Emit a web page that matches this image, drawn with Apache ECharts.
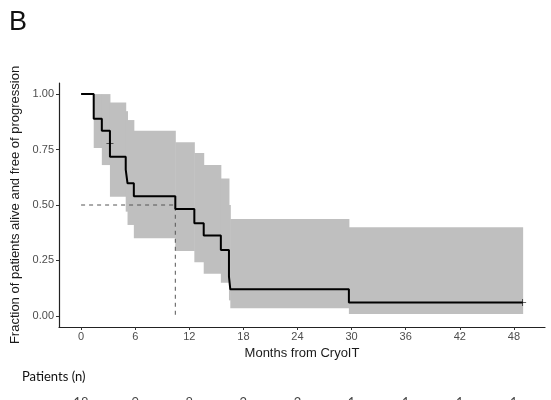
<!DOCTYPE html>
<html lang="en">
<head>
    <meta charset="UTF-8">
    <title>PFS after CryoIT</title>
    <style>
        html, body { margin: 0; padding: 0; background: #fff; }
    </style>
</head>
<body>
<div id="main" style="width: 551px;height:400px;"></div>

<script src="https://cdn.jsdelivr.net/npm/echarts@6/dist/echarts.min.js"></script>
<script>
    // step times (months) and Kaplan-Meier estimate with its 95% band
    var times = [0, 1.4, 2.3, 3.2, 4.95, 5.15, 5.85, 10.45, 12.56, 13.6, 15.5, 16.4, 16.55, 29.7, 48.97];
    var surv  = [1, 0.889, 0.835, 0.717, 0.66, 0.598, 0.54, 0.482, 0.418, 0.362, 0.297, 0.177, 0.12, 0.06, 0.06];
    var upper = [1, 1, 1, 0.962, 0.923, 0.883, 0.835, 0.783, 0.734, 0.68, 0.62, 0.50, 0.437, 0.40, 0.40];
    var lower = [1, 0.757, 0.68, 0.537, 0.47, 0.41, 0.35, 0.293, 0.242, 0.19, 0.15, 0.07, 0.035, 0.009, 0.009];

    // censored observations
    var censored = [[3.2, 0.778], [48.97, 0.06]];

    // median survival guide
    var median = 10.45;

    // number at risk
    var riskMonths = [0, 6, 12, 18, 24, 30, 36, 42, 48];
    var riskCounts = [18, 9, 8, 2, 2, 1, 1, 1, 1];

    var xTicks = [0, 6, 12, 18, 24, 30, 36, 42, 48];
    var yTicks = [0, 0.25, 0.5, 0.75, 1];

    var pair = function (xs, ys) {
        var res = [];
        for (var i = 0; i < xs.length; i++) {
            res.push([xs[i], ys[i]]);
        }
        return res;
    };

    // one rectangle per step of the confidence band
    var bandData = [];
    for (var i = 0; i < times.length - 1; i++) {
        bandData.push([times[i], times[i + 1], lower[i], upper[i]]);
    }

    var riskData = [];
    for (var i = 0; i < riskMonths.length; i++) {
        riskData.push([riskMonths[i], 0.5, riskCounts[i]]);
    }

    var axisFont = 'Liberation Sans, Arial, sans-serif';
    var chart = echarts.init(document.getElementById('main'));
    chart.setOption({
        backgroundColor: '#ffffff',
        animation: false,
        graphic: [
            {
                type: 'text',
                left: 9,
                top: 9,
                style: { text: 'B', font: '27px Liberation Sans', fill: '#111' }
            },
            {
                type: 'text',
                left: 22,
                top: 370,
                style: { text: 'Patients (n)', font: '13px Lato', fill: '#111' }
            }
        ],
        grid: [
            { left: 59, right: 6, top: 83, bottom: 73 },
            { left: 59, right: 6, top: 400, height: 20 }
        ],
        xAxis: [
            {
                type: 'value',
                min: -2.45,
                max: 51.45,
                name: 'Months from CryoIT',
                nameLocation: 'middle',
                nameGap: 17,
                nameTextStyle: { fontFamily: axisFont, fontSize: 13, color: '#1a1a1a' },
                splitLine: { show: false },
                axisLine: { onZero: false, lineStyle: { color: '#222', width: 1.2 } },
                axisTick: { length: 3, lineStyle: { color: '#333' }, customValues: xTicks },
                axisLabel: { customValues: xTicks, margin: 4, fontFamily: axisFont, fontSize: 11, color: '#4d4d4d' }
            },
            {
                gridIndex: 1,
                type: 'value',
                min: -2.45,
                max: 51.45,
                show: false
            }
        ],
        yAxis: [
            {
                type: 'value',
                min: -0.05,
                max: 1.05,
                name: 'Fraction of patients alive and free of progression',
                nameLocation: 'middle',
                nameGap: 34,
                nameTextStyle: { fontFamily: axisFont, fontSize: 13, color: '#1a1a1a' },
                splitLine: { show: false },
                axisLine: { show: true, onZero: false, lineStyle: { color: '#222', width: 1.2 } },
                axisTick: { show: true, length: 3, lineStyle: { color: '#333' }, customValues: yTicks },
                axisLabel: {
                    customValues: yTicks,
                    margin: 5,
                    fontFamily: axisFont,
                    fontSize: 11,
                    color: '#4d4d4d',
                    formatter: function (v) { return v.toFixed(2); }
                }
            },
            {
                gridIndex: 1,
                type: 'value',
                min: 0,
                max: 1,
                show: false
            }
        ],
        series: [
            {
                name: 'band',
                type: 'custom',
                encode: { x: [0, 1], y: [2, 3] },
                renderItem: function (params, api) {
                    var p0 = api.coord([api.value(0), api.value(3)]);
                    var p1 = api.coord([api.value(1), api.value(2)]);
                    return {
                        type: 'rect',
                        shape: { x: p0[0], y: p0[1], width: p1[0] - p0[0] + 0.5, height: p1[1] - p0[1] },
                        style: { fill: '#bfbfbf' }
                    };
                },
                data: bandData
            },
            {
                name: 'median',
                type: 'line',
                symbol: 'none',
                lineStyle: { color: '#555', width: 1, type: [4, 4] },
                data: [[0, 0.5], [median, 0.5], [median, 0]]
            },
            {
                name: 'survival',
                type: 'line',
                step: 'end',
                symbol: 'none',
                lineStyle: { color: '#000', width: 2 },
                data: pair(times, surv)
            },
            {
                name: 'censor',
                type: 'scatter',
                symbol: 'path://M4,0h1v4h4v1h-4v4h-1v-4h-4v-1h4z',
                symbolSize: 7,
                itemStyle: { color: '#000' },
                data: censored
            },
            {
                name: 'at risk',
                type: 'scatter',
                xAxisIndex: 1,
                yAxisIndex: 1,
                symbolSize: 0,
                label: {
                    show: true,
                    position: 'inside',
                    fontFamily: 'Lato',
                    fontSize: 13,
                    color: '#111',
                    formatter: function (p) { return String(p.value[2]); }
                },
                data: riskData
            }
        ]
    });
</script>
</body>
</html>
